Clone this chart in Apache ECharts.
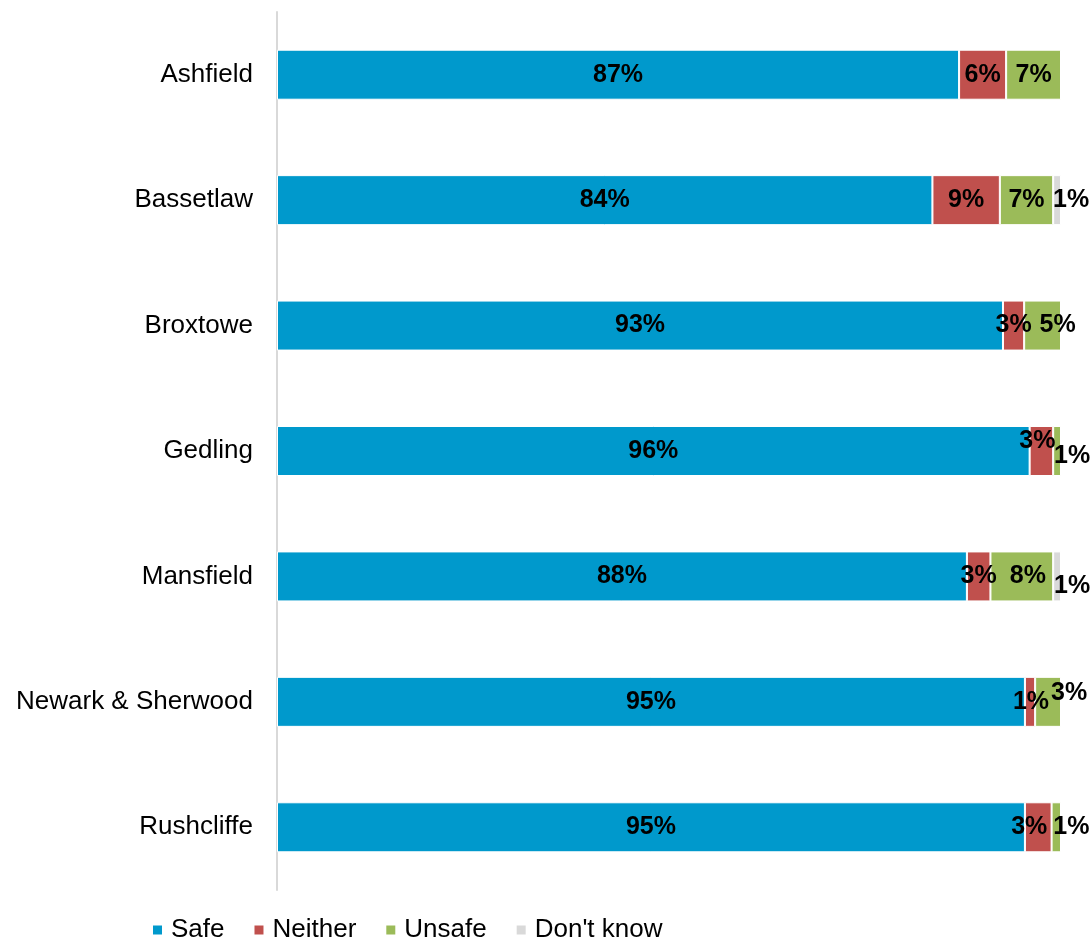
<!DOCTYPE html>
<html>
<head>
<meta charset="utf-8">
<script src="https://cdn.jsdelivr.net/npm/echarts@6/dist/echarts.min.js"></script>
<style>
  html, body { margin: 0; padding: 0; background: #fff; }
  #chart { width: 1092px; height: 939px; }
</style>
</head>
<body>
<div id="chart"></div>
<script>
// Districts, top to bottom
const districts = ['Ashfield', 'Bassetlaw', 'Broxtowe', 'Gedling', 'Mansfield', 'Newark & Sherwood', 'Rushcliffe'];

// Share of respondents (%) per answer; labels show the rounded figure
const safe     = [87,  83.6, 92.6, 96, 88, 95.4, 95.4];
const neither  = [6,   8.6,  2.7,  3,  3,  1.3,  3.4];
const unsafe   = [7,   6.8,  4.7,  1,  8,  3.3,  1.2];
const dontKnow = [0,   1.0,  0,    0,  1,  0,    0];

const seriesNames = ['Safe', 'Neither', 'Unsafe', "Don't know"];
const seriesValues = [safe, neither, unsafe, dontKnow];
const seriesColors = ['#0099CC', '#C0504D', '#9BBB59', '#D9D9D9'];

// Label nudges [dx, dy] for narrow segments whose labels spill over
const labelNudges = {
  'Bassetlaw|Don\'t know': [14, 0],
  'Broxtowe|Unsafe': [15, 0],
  'Gedling|Neither': [-4, -10],
  'Gedling|Unsafe': [15, 5],
  'Mansfield|Unsafe': [6, 0],
  'Mansfield|Don\'t know': [15, 10],
  'Newark & Sherwood|Neither': [1, 0],
  'Newark & Sherwood|Unsafe': [21, -9],
  'Rushcliffe|Neither': [-9, 0],
  'Rushcliffe|Unsafe': [15, 0]
};

const FONT = 'Liberation Sans, Arial, sans-serif';

const series = seriesNames.map((name, si) => ({
  name: name,
  type: 'bar',
  stack: 'total',
  barWidth: 50,
  itemStyle: { color: seriesColors[si], borderColor: '#fff', borderWidth: 1 },
  label: {
    show: true,
    position: 'inside',
    color: '#000',
    fontFamily: FONT,
    fontWeight: 'bold',
    fontSize: 25,
    formatter: p => (p.value > 0 ? Math.round(p.value) + '%' : '')
  },
  data: seriesValues[si].map((v, i) => {
    const nudge = labelNudges[districts[i] + '|' + name];
    return nudge ? { value: v, label: { offset: nudge } } : v;
  })
}));

const chart = echarts.init(document.getElementById('chart'), null, { renderer: 'canvas' });
chart.setOption({
  animation: false,
  backgroundColor: '#fff',
  grid: { left: 277, right: 31, top: 12, bottom: 49, containLabel: false },
  xAxis: {
    type: 'value',
    min: 0,
    max: 100,
    show: false
  },
  yAxis: {
    type: 'category',
    inverse: true,
    data: districts,
    axisLine: { show: true, lineStyle: { color: '#D9D9D9', width: 2 } },
    axisTick: { show: false },
    axisLabel: {
      margin: 24,
      color: '#000',
      fontFamily: FONT,
      fontSize: 26
    }
  },
  legend: {
    data: seriesNames,
    left: 151,
    top: 917,
    padding: 0,
    icon: 'rect',
    itemWidth: 11,
    itemHeight: 11,
    itemGap: 28,
    textStyle: {
      color: '#000',
      fontFamily: FONT,
      fontSize: 26,
      padding: [0, 0, 0, 3]
    }
  },
  series: series
});
</script>
</body>
</html>
